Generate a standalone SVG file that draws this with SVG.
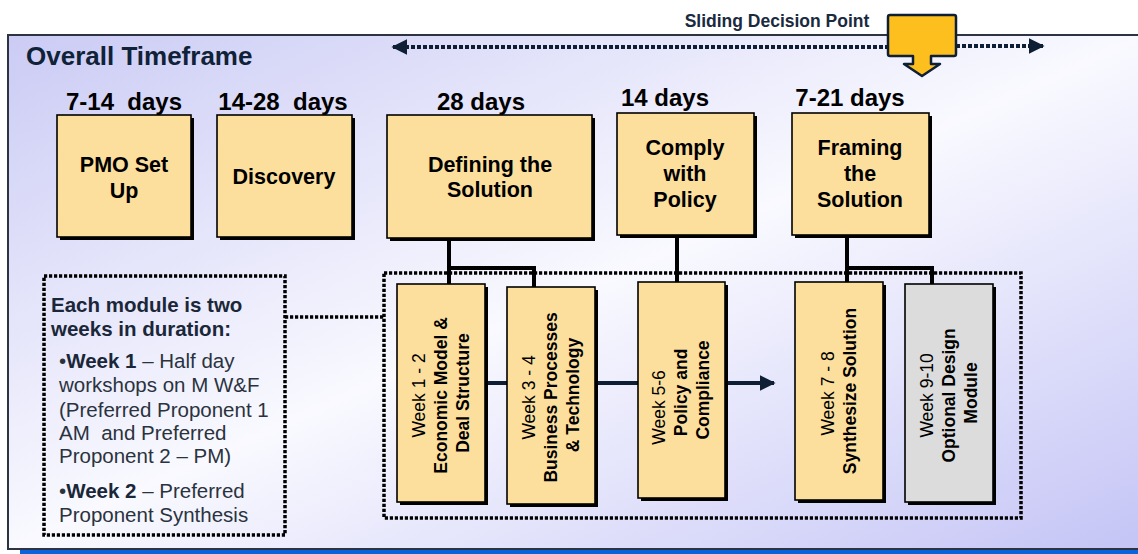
<svg xmlns="http://www.w3.org/2000/svg" width="1138" height="554" viewBox="0 0 1138 554">
  <defs>
    <linearGradient id="panelFill" x1="0" y1="0" x2="1" y2="1">
      <stop offset="0" stop-color="#cbcbf5"/>
      <stop offset="0.5" stop-color="#f9f9ff"/>
      <stop offset="1" stop-color="#c4c4f6"/>
    </linearGradient>
    <marker id="navyHead" viewBox="0 0 10 10" refX="9" refY="5" markerWidth="4" markerHeight="4" orient="auto-start-reverse" markerUnits="strokeWidth">
      <path d="M0,0 L10,5 L0,10 Z" fill="#0d1e35"/>
    </marker>
    <marker id="dotHead" viewBox="0 0 10 10" refX="9" refY="5" markerWidth="4" markerHeight="4" orient="auto-start-reverse" markerUnits="strokeWidth">
      <path d="M0,0 L10,5 L0,10 Z" fill="#0d1e35"/>
    </marker>
  </defs>
  <style>
    .phase { fill: #fddf9d; stroke: #000; stroke-width: 1.6; }
    .optional { fill: #dcdcdc; stroke: #000; stroke-width: 1.6; }
    .shadow { fill: #000; }
    .dotted { fill: none; stroke: #000; stroke-width: 3.5; stroke-dasharray: 3.2 1.8; }
    .link { fill: none; stroke: #000; stroke-width: 4; }
    .flow { fill: none; stroke: #0d1e35; stroke-width: 4; }
    .slide { fill: none; stroke: #0d1e35; stroke-width: 4; stroke-dasharray: 4 2; }
    .days { font-family: "Liberation Sans", Arial, sans-serif; font-weight: bold; font-size: 24px; fill: #000; text-anchor: middle; white-space: pre; }
    .boxtxt { font-family: "Liberation Sans", Arial, sans-serif; font-weight: bold; font-size: 21.5px; fill: #000; text-anchor: middle; }
    .modtxt { font-family: "Liberation Sans", Arial, sans-serif; font-size: 17.5px; fill: #000; text-anchor: middle; }
    .modtxt .b { font-weight: bold; }
    .note { font-family: "Liberation Sans", Arial, sans-serif; font-size: 20.5px; fill: #2a333d; white-space: pre; }
    .note .b { font-weight: bold; fill: #1a2738; }
  </style>

  <!-- background panel -->
  <rect x="0" y="0" width="1138" height="554" fill="#ffffff"/>
  <rect x="20" y="550" width="1118" height="4" fill="#0b63dc"/>
  <rect x="8" y="35" width="1140" height="514" fill="url(#panelFill)" stroke="#2b3440" stroke-width="2"/>

  <text x="26" y="65" font-family="Liberation Sans, Arial, sans-serif" font-weight="bold" font-size="26" fill="#0f2238">Overall Timeframe</text>
  <text x="777" y="27" font-family="Liberation Sans, Arial, sans-serif" font-weight="bold" font-size="17.5" fill="#1a2a40" text-anchor="middle">Sliding Decision Point</text>

  <!-- dotted frames -->
  <rect class="dotted" x="384" y="273" width="637" height="245"/>
  <rect class="dotted" x="44" y="276" width="241" height="259"/>

  <!-- connectors -->
  <g id="connectors">
    <path class="slide" d="M393,47 L888,47" marker-start="url(#dotHead)"/>
    <path class="slide" d="M956,46 L1043,46" marker-end="url(#dotHead)"/>
    <path class="dotted" d="M285,317 L384,317"/>
    <path class="flow" d="M485,383 L774,383" marker-end="url(#navyHead)"/>
    <path class="link" d="M449,238 L449,285 M449,268 L534,268 L534,288"/>
    <path class="link" d="M677,235 L677,283"/>
    <path class="link" d="M847,235 L847,283 M847,268 L932,268 L932,285"/>
  </g>

  <!-- decision point callout -->
  <g id="decision-point">
    <path d="M890,15 L954,15 Q956,15 956,17 L956,54 Q956,56 954,56 L931,56 L931,64 L940,64 L922,76 L904,64 L913,64 L913,56 L890,56 Q888,56 888,54 L888,17 Q888,15 890,15 Z" fill="#fdbf1e" stroke="#0d1e35" stroke-width="2.5" stroke-linejoin="round"/>
  </g>

  <!-- phase headers -->
  <g id="pmo">
    <text class="days" x="124" y="110" xml:space="preserve">7-14  days</text>
    <rect class="shadow" x="60" y="118" width="134" height="122"/>
    <rect class="phase" x="57" y="115" width="134" height="122"/>
    <text class="boxtxt" x="124" y="172">PMO Set</text>
    <text class="boxtxt" x="124" y="198">Up</text>
  </g>
  <g id="discovery">
    <text class="days" x="283" y="110" xml:space="preserve">14-28  days</text>
    <rect class="shadow" x="220" y="118" width="135" height="122"/>
    <rect class="phase" x="217" y="115" width="135" height="122"/>
    <text class="boxtxt" x="284" y="184">Discovery</text>
  </g>
  <g id="defining">
    <text class="days" x="481" y="110">28 days</text>
    <rect class="shadow" x="390" y="118" width="205" height="123"/>
    <rect class="phase" x="387" y="115" width="205" height="123"/>
    <text class="boxtxt" x="490" y="172">Defining the</text>
    <text class="boxtxt" x="490" y="197">Solution</text>
  </g>
  <g id="comply">
    <text class="days" x="665" y="106">14 days</text>
    <rect class="shadow" x="620" y="116" width="137" height="122"/>
    <rect class="phase" x="617" y="113" width="137" height="122"/>
    <text class="boxtxt" x="685" y="155">Comply</text>
    <text class="boxtxt" x="685" y="181">with</text>
    <text class="boxtxt" x="685" y="207">Policy</text>
  </g>
  <g id="framing">
    <text class="days" x="850" y="106">7-21 days</text>
    <rect class="shadow" x="795" y="116" width="137" height="122"/>
    <rect class="phase" x="792" y="113" width="137" height="122"/>
    <text class="boxtxt" x="860" y="155">Framing</text>
    <text class="boxtxt" x="860" y="181">the</text>
    <text class="boxtxt" x="860" y="207">Solution</text>
  </g>

  <!-- two-week modules -->
  <g id="week-1-2">
    <rect class="shadow" x="400" y="287" width="88" height="218"/>
    <rect class="phase" x="397" y="284" width="88" height="218"/>
    <text class="modtxt" transform="translate(441,393) rotate(-90)">
      <tspan x="0" y="-16">Week 1 - 2</tspan>
      <tspan class="b" x="0" y="6">Economic Model &amp;</tspan>
      <tspan class="b" x="0" y="28">Deal Structure</tspan>
    </text>
  </g>
  <g id="week-3-4">
    <rect class="shadow" x="510" y="290" width="88" height="217"/>
    <rect class="phase" x="507" y="287" width="88" height="217"/>
    <text class="modtxt" transform="translate(551,395) rotate(-90)">
      <tspan x="0" y="-16">Week 3 - 4</tspan>
      <tspan class="b" x="0" y="6">Business Processes</tspan>
      <tspan class="b" x="0" y="28">&amp; Technology</tspan>
    </text>
  </g>
  <g id="week-5-6">
    <rect class="shadow" x="641" y="285" width="87" height="216"/>
    <rect class="phase" x="638" y="282" width="87" height="216"/>
    <text class="modtxt" transform="translate(681,390) rotate(-90)">
      <tspan x="-15" y="-16">Week 5-6</tspan>
      <tspan class="b" x="0" y="6">Policy and</tspan>
      <tspan class="b" x="0" y="28">Compliance</tspan>
    </text>
  </g>
  <g id="week-7-8">
    <rect class="shadow" x="798" y="285" width="88" height="218"/>
    <rect class="phase" x="795" y="282" width="88" height="218"/>
    <text class="modtxt" transform="translate(839,391) rotate(-90)">
      <tspan x="0" y="-5">Week 7 - 8</tspan>
      <tspan class="b" x="0" y="17">Synthesize Solution</tspan>
    </text>
  </g>
  <g id="week-9-10">
    <rect class="shadow" x="908" y="287" width="88" height="218"/>
    <rect class="optional" x="905" y="284" width="88" height="218"/>
    <text class="modtxt" transform="translate(949,393) rotate(-90)">
      <tspan x="0" y="-16">Week 9-10</tspan>
      <tspan class="b" x="0" y="6">Optional Design</tspan>
      <tspan class="b" x="0" y="28">Module</tspan>
    </text>
  </g>

  <!-- module note -->
  <g id="module-note">
    <text class="note" xml:space="preserve"><tspan class="b" x="51" y="312">Each module is two</tspan><tspan class="b" x="51" y="336">weeks in duration:</tspan><tspan x="59" y="368">•<tspan class="b">Week 1</tspan> – Half day</tspan><tspan x="59" y="392">workshops on M W&amp;F</tspan><tspan x="59" y="417">(Preferred Proponent 1</tspan><tspan x="59" y="440">AM  and Preferred</tspan><tspan x="59" y="463">Proponent 2 – PM)</tspan><tspan x="59" y="498">•<tspan class="b">Week 2</tspan> – Preferred</tspan><tspan x="59" y="522">Proponent Synthesis</tspan></text>
  </g>
</svg>
